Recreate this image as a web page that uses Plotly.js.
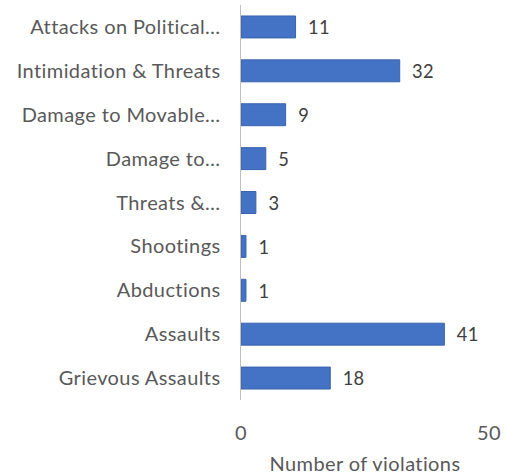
<!DOCTYPE html>
<html><head><meta charset="utf-8">
<script src="https://cdn.plot.ly/plotly-3.0.1.min.js"></script>
<style>html,body{margin:0;padding:0;background:#fff}#c{width:508px;height:476px}
#c svg text{letter-spacing:0.4px}</style>
</head><body><div id="c"></div>
<script>
const categories = ["Attacks on Political…","Intimidation & Threats","Damage to Movable…","Damage to…","Threats &…","Shootings","Abductions","Assaults","Grievous Assaults"];
const values = [11,32,9,5,3,1,1,41,18];
const xTicks = [0,50];

const FONT = 'Lato, sans-serif';
const trace = {
  type:'bar', orientation:'h',
  y: categories, x: values,
  text: values.map(v => '  ' + v), textposition:'outside', cliponaxis:false,
  textfont:{family:FONT, size:20, color:'#404040'},
  marker:{color:'#4472C4', line:{color:'#3a63ad', width:1}},
  hoverinfo:'none'
};
const layout = {
  width:508, height:476,
  margin:{l:241, r:19, t:5, b:76},
  paper_bgcolor:'#fff', plot_bgcolor:'#fff',
  bargap:0.5, showlegend:false,
  font:{family:FONT, size:20, color:'#595959'},
  xaxis:{range:[0,50], tickvals:xTicks, ticktext:xTicks.map(String),
    showgrid:true, gridcolor:'#d9d9d9', gridwidth:1.5, zeroline:false, showline:false,
    ticks:'', ticklabelstandoff:19,
    tickfont:{family:FONT, size:20, color:'#595959'},
    title:{text:'Number of violations', standoff:13, font:{family:FONT, size:20, color:'#595959'}}},
  yaxis:{categoryorder:'array', categoryarray:categories.slice().reverse(),
    type:'category',
    showline:true, linecolor:'#bfbfbf', linewidth:1.5, showgrid:false, zeroline:false,
    ticks:'', ticklabelstandoff:15, tickfont:{family:FONT, size:20, color:'#595959'}}
};
Plotly.newPlot('c',[trace],layout,{staticPlot:true, displayModeBar:false});
</script></body></html>
